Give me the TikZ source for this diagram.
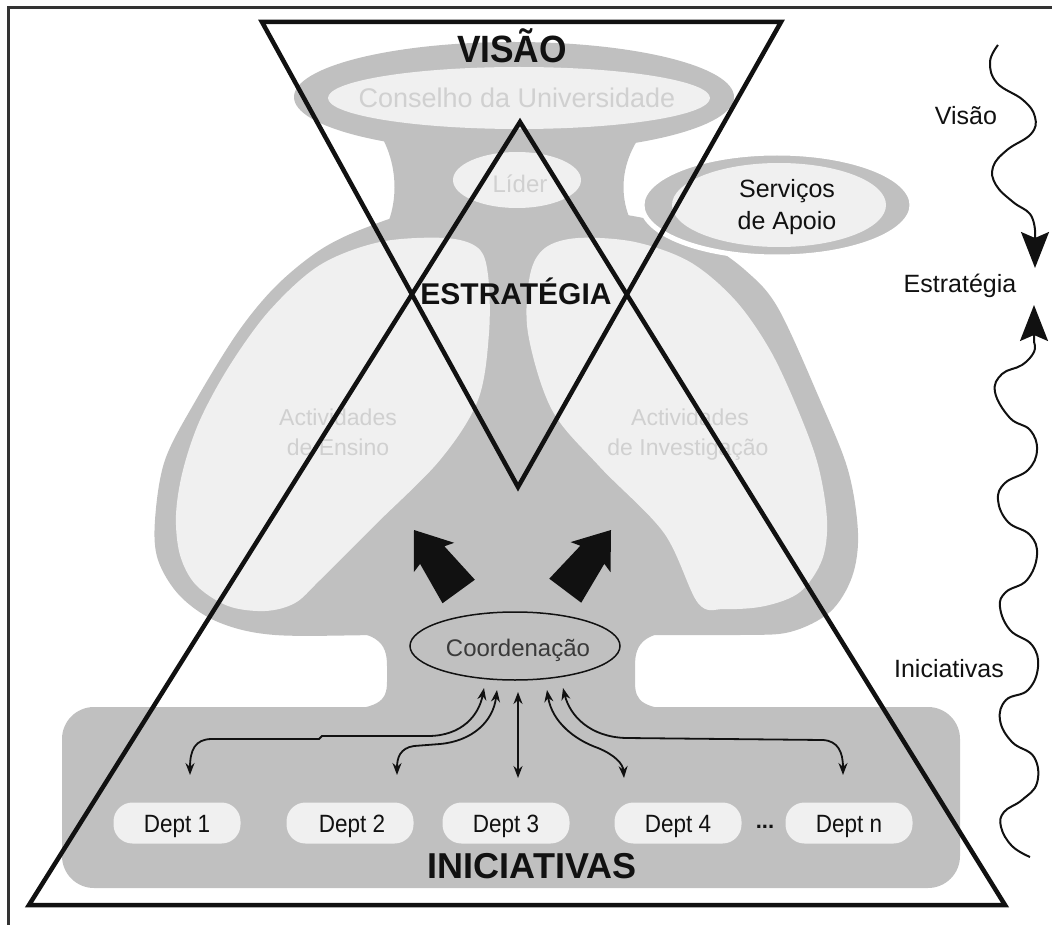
\documentclass[tikz,border=0pt]{standalone}
\usepackage{fontspec}
\usepackage{graphicx}
\setmainfont{Liberation Sans}
\usetikzlibrary{arrows.meta,shapes.geometric,calc}

\definecolor{blob}{HTML}{C0C0C0}
\definecolor{pale}{HTML}{F0F0F0}
\definecolor{faint}{HTML}{D0D0D0}
\definecolor{ink}{HTML}{111111}
\definecolor{framegray}{HTML}{333333}
\definecolor{coordtext}{HTML}{3A3A3A}

\newcommand{\pxfont}[1]{\fontsize{#1}{#1}\selectfont}

\tikzset{
  title/.style={font=\pxfont{#1}\bfseries, text=ink, inner sep=0pt, anchor=base},
  label/.style={font=\pxfont{#1}, text=ink, inner sep=0pt, anchor=base},
  ghost/.style={font=\pxfont{#1}, text=faint, inner sep=0pt, anchor=base},
  deptbox/.style={fill=pale, rounded corners=19pt, minimum width=127pt,
    minimum height=41pt, inner sep=0pt},
  conn/.style={line width=1.8pt, ink,
    {Stealth[length=12pt,width=9pt]}-{Stealth[length=12pt,width=9pt]}},
  wave/.style={line width=2pt, ink, -{Stealth[length=36pt,width=28pt,inset=6pt]}},
  tri/.style={line width=4.5pt, ink, line join=miter},
  blockarrow/.style={fill=ink},
}

\begin{document}
\begin{tikzpicture}[x=1pt, y=-1pt]
\useasboundingbox (0,0) rectangle (1052,925);

% ---------- grey organisation body ----------
% upper ellipse (council)
\fill[blob] (514,97) ellipse [x radius=220pt, y radius=55pt];
% neck between council and activities
\fill[blob] (372,122) .. controls (402,160) and (402,215) .. (372,250)
  -- (652,250) .. controls (614,215) and (614,160) .. (652,122) -- cycle;
% large two-lobed body
\fill[blob] plot[smooth cycle, tension=0.55] coordinates {
  (512,212) (600,212) (660,222) (702,240) (745,270) (778,308) (820,400)
  (848,470) (858,533) (852,577) (830,612) (790,632) (740,635) (635,635)
  (512,635) (387,635) (275,635) (218,622) (180,596) (158,560) (155,520)
  (165,460) (196,400) (238,332) (276,286) (320,250) (365,228) (420,212)};
% lower neck to the departments
\fill[blob] (320,629) .. controls (378,630) and (387,642) .. (387,666)
  -- (387,682) .. controls (387,702) and (378,709) .. (330,711)
  -- (690,711) .. controls (642,709) and (635,702) .. (635,682)
  -- (635,666) .. controls (635,642) and (644,630) .. (700,629) -- cycle;
% departments band
\fill[blob, rounded corners=32pt] (62,707) rectangle (960,888);

% ---------- pale inner regions ----------
\fill[pale] (519,98) ellipse [x radius=191pt, y radius=31pt];
\fill[pale] (517,180) ellipse [x radius=64pt, y radius=28pt];
\fill[pale] plot[smooth cycle, tension=0.55] coordinates {
  (445,238) (478,248) (488,275) (489,333) (478,400) (440,460) (375,525)
  (320,580) (295,603) (265,611) (228,606) (196,585) (180,555) (176,515)
  (183,470) (200,420) (230,365) (270,310) (320,265) (380,242)};
\fill[pale] plot[smooth cycle, tension=0.55] coordinates {
  (578,238) (545,248) (530,275) (528,333) (552,410) (600,467) (664,533)
  (698,603) (725,609) (765,606) (800,592) (822,560) (827,520) (818,465)
  (798,410) (770,350) (735,300) (690,262) (635,242)};

% ---------- support services ----------
\filldraw[fill=blob, draw=white, line width=5pt]
  (777,205) ellipse [x radius=135pt, y radius=52pt];
\fill[pale] (779,205) ellipse [x radius=107pt, y radius=42pt];
\node[label=25] (serv1) at (787,198) {Serviços};
\node[label=25] (serv2) at (787,230) {de Apoio};

% ---------- faint labels inside the body ----------
\node[ghost=27] (conselho) at (517,108) {Conselho da Universidade};
\node[ghost=24] (lider) at (520,193) {Líder};
\node[ghost=23] (ens1) at (338,425) {Actividades};
\node[ghost=23] (ens2) at (338,455) {de Ensino};
\node[ghost=23] (inv1) at (690,425) {Actividades};
\node[ghost=23] (inv2) at (688,455) {de Investigação};

% ---------- coordination and departments ----------
\node[ellipse, fill=blob, draw=ink, line width=1.5pt, minimum width=210pt,
  minimum height=68pt, inner sep=0pt] (coord) at (515,646) {};
\node[font=\pxfont{24}, text=coordtext, inner sep=0pt, anchor=base]
  (coordlbl) at (518,656) {Coordenação};

\node[deptbox] (d1) at (177,823) {};
\node[deptbox] (d2) at (350,823) {};
\node[deptbox] (d3) at (506,823) {};
\node[deptbox] (d4) at (678,823) {};
\node[deptbox] (dn) at (849,823) {};
\node[label=25] (t1) at (177,832) {\scalebox{0.9}[1]{Dept 1}};
\node[label=25] (t2) at (352,832) {\scalebox{0.9}[1]{Dept 2}};
\node[label=25] (t3) at (506,832) {\scalebox{0.9}[1]{Dept 3}};
\node[label=25] (t4) at (678,832) {\scalebox{0.9}[1]{Dept 4}};
\node[label=25] (tn) at (849,832) {\scalebox{0.9}[1]{Dept n}};
\node[title=22] (dots) at (765,828) {...};

% block arrows rising from coordination
\fill[blockarrow, shift={(414,530)}, rotate=36]
  (0,0) -- (25,34) -- (15,31) -- (20,76) -- (-20,76) -- (-15,31) -- (-25,34) -- cycle;
\fill[blockarrow, shift={(611,530)}, rotate=-37]
  (0,0) -- (25,34) -- (15,31) -- (20,76) -- (-20,76) -- (-15,31) -- (-25,34) -- cycle;

% ---------- links coordination <-> departments ----------
\coordinate (c1) at (484,688);  \coordinate (e1) at (190,775);
\coordinate (c2) at (497,690);  \coordinate (e2) at (397,775);
\coordinate (c3) at (518,692);  \coordinate (e3) at (518,778);
\coordinate (c4) at (547,690);  \coordinate (e4) at (624,778);
\coordinate (c5) at (563,688);  \coordinate (e5) at (843,775);
\draw[conn] (c1) .. controls (479,715) and (462,736) .. (428,736)
  -- (322,736) -- (319,739) -- (212,739) .. controls (195,739) and (190,750) .. (e1);
\draw[conn] (c2) .. controls (493,722) and (472,741) .. (440,744)
  -- (414,746) .. controls (400,748) and (397,758) .. (e2);
\draw[conn] (c3) -- (e3);
\draw[conn] (c4) .. controls (552,722) and (575,740) .. (598,748)
  .. controls (615,755) and (623,764) .. (e4);
\draw[conn] (c5) .. controls (570,716) and (590,737) .. (626,738)
  -- (823,740) .. controls (838,741) and (843,752) .. (e5);

% ---------- vision / initiatives triangles ----------
\draw[tri] (262,22) -- (781,22) -- (518,487) -- cycle;
\draw[tri] (520,122) -- (1005,905) -- (29,905) -- cycle;

\node[title=38] (visao) at (512,63) {\scalebox{0.93}[1]{VISÃO}};
\node[title=30] (estrategia) at (516,305) {ESTRATÉGIA};
\node[title=36] (iniciativas) at (532,878) {INICIATIVAS};

% ---------- right-hand flow ----------
\node[label=25] (rvisao) at (966,125) {Visão};
\node[label=25] (restr) at (960,293) {Estratégia};
\node[label=25] (rinic) at (949,677) {Iniciativas};

\coordinate (wtop) at (998,45);
\coordinate (wtip1) at (1035,268);
\coordinate (wbot) at (1030,857);
\coordinate (wtip2) at (1034,305);
\draw[wave] plot[smooth, tension=0.7] coordinates {
  (wtop) (990,62) (997,83) (1023,100) (1035,117) (1031,134) (1007,150)
  (993,167) (996,185) (1013,202) (1030,214) (1035,230)} -- (wtip1);
\draw[wave] plot[smooth, tension=0.7] coordinates {
  (wbot) (1012,846) (1001,827) (1004,812) (1022,800) (1037,783) (1034,757)
  (1012,742) (1000,720) (1006,700) (1028,690) (1038,667) (1032,645)
  (1010,630) (1000,607) (1006,592) (1027,580) (1037,555) (1030,535)
  (1008,522) (998,500) (1005,483) (1028,470) (1037,450) (1030,430)
  (1010,418) (995,392) (1002,374) (1022,365) (1034,352) (1034,342)} -- (wtip2);

% ---------- frame ----------
\draw[framegray, line width=3pt] (8,925) -- (8,8) -- (1052,8);
\end{tikzpicture}
\end{document}
